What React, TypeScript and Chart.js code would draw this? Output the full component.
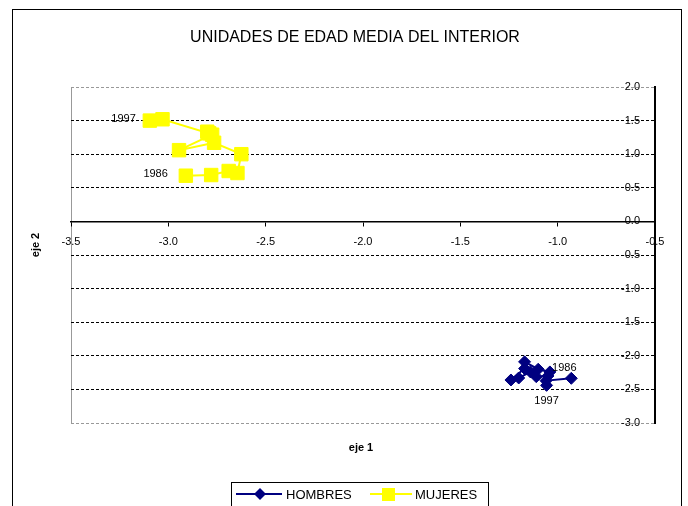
import { useEffect, useRef } from "react";
import { Chart, registerables } from "chart.js";

Chart.register(...registerables);

const chartTitle = "UNIDADES DE EDAD MEDIA DEL INTERIOR";
const xAxisTitle = "eje 1";
const yAxisTitle = "eje 2";
const years = [1986, 1987, 1988, 1989, 1990, 1991, 1992, 1993, 1994, 1995, 1996, 1997];
const hombresX = [-0.93, -1.06, -1.04, -1.1, -1.17, -1.14, -1.2, -1.24, -1.17, -1.11, -1.05, -1.057];
const hombresY = [-2.335, -2.37, -2.24, -2.2, -2.09, -2.24, -2.33, -2.36, -2.19, -2.31, -2.3, -2.44];
const mujeresX = [-2.91, -2.78, -2.69, -2.645, -2.625, -2.765, -2.945, -2.775, -2.8, -2.79, -3.03, -3.095];
const mujeresY = [0.68, 0.69, 0.75, 0.72, 1.0, 1.17, 1.06, 1.29, 1.335, 1.31, 1.52, 1.5];
const xMin = -3.5, xMax = -0.5, yMin = -3.0, yMax = 2.0, step = 0.5;
const seriesNames = ["HOMBRES", "MUJERES"];
const seriesColors = ["#000080", "#FFFF00"];

const FONT = "'Liberation Sans', Arial, sans-serif";

export default function App() {
  const ref = useRef<HTMLCanvasElement | null>(null);
  useEffect(() => {
    const canvas = ref.current;
    if (!canvas) return;
    const decor = {
      id: "decor",
      beforeDraw(chart: any) {
        const ctx = chart.ctx;
        ctx.save();
        ctx.fillStyle = "#fff";
        ctx.fillRect(0, 0, chart.width, chart.height);
        ctx.strokeStyle = "#000";
        ctx.lineWidth = 1;
        ctx.strokeRect(12.5, 9.5, 669, 520);
        const a = chart.chartArea;
        ctx.strokeStyle = "#999";
        ctx.beginPath();
        ctx.moveTo(Math.round(a.left) + 0.5, a.top);
        ctx.lineTo(Math.round(a.left) + 0.5, a.bottom);
        ctx.stroke();
        ctx.fillStyle = "#000";
        ctx.font = `16px ${FONT}`;
        ctx.textAlign = "center";
        ctx.textBaseline = "middle";
        ctx.fillText(chartTitle, 355, 38);
        ctx.font = `bold 11px ${FONT}`;
        ctx.fillText(xAxisTitle, 361, 448);
        ctx.save();
        ctx.translate(36, 245);
        ctx.rotate(-Math.PI / 2);
        ctx.fillText(yAxisTitle, 0, 0);
        ctx.restore();
        // legend
        ctx.strokeStyle = "#000";
        ctx.strokeRect(231.5, 482.5, 257, 30);
        const ly = 494;
        ctx.lineWidth = 2;
        ctx.strokeStyle = seriesColors[0];
        ctx.beginPath();
        ctx.moveTo(236, ly);
        ctx.lineTo(282, ly);
        ctx.stroke();
        ctx.fillStyle = seriesColors[0];
        ctx.beginPath();
        ctx.moveTo(260, ly - 6);
        ctx.lineTo(266, ly);
        ctx.lineTo(260, ly + 6);
        ctx.lineTo(254, ly);
        ctx.closePath();
        ctx.fill();
        ctx.strokeStyle = seriesColors[1];
        ctx.beginPath();
        ctx.moveTo(370, ly);
        ctx.lineTo(412, ly);
        ctx.stroke();
        ctx.fillStyle = seriesColors[1];
        ctx.fillRect(382, ly - 6, 13, 13);
        ctx.fillStyle = "#000";
        ctx.font = `13px ${FONT}`;
        ctx.textAlign = "left";
        ctx.fillText(seriesNames[0], 286, ly + 1);
        ctx.fillText(seriesNames[1], 415, ly + 1);
        ctx.restore();
      },
      afterDatasetsDraw(chart: any) {
        const ctx = chart.ctx;
        const xs = chart.scales.x;
        const ys = chart.scales.y;
        ctx.save();
        ctx.fillStyle = "#000";
        ctx.font = `11px ${FONT}`;
        ctx.textBaseline = "middle";
        const last = years.length - 1;
        ctx.textAlign = "right";
        ctx.fillText(String(years[0]), xs.getPixelForValue(mujeresX[0]) - 18, ys.getPixelForValue(mujeresY[0]) - 2);
        ctx.fillText(String(years[last]), xs.getPixelForValue(mujeresX[last]) - 14, ys.getPixelForValue(mujeresY[last]) - 2);
        ctx.textAlign = "center";
        ctx.fillText(String(years[0]), xs.getPixelForValue(hombresX[0]) - 7, ys.getPixelForValue(hombresY[0]) - 10);
        ctx.fillText(String(years[last]), xs.getPixelForValue(hombresX[last]), ys.getPixelForValue(hombresY[last]) + 16);
        ctx.restore();
      },
    };

    const gridColor = (c: any) => {
      const v = c.tick ? c.tick.value : 0;
      if (Math.abs(v) < 1e-9) return "rgba(0,0,0,0)";
      if (Math.abs(v - yMax) < 1e-9 || Math.abs(v - yMin) < 1e-9) return "#999";
      return "#000";
    };

    const chart = new Chart(canvas, {
      type: "scatter",
      data: {
        datasets: [
          {
            label: seriesNames[0],
            data: hombresX.map((x, i) => ({ x, y: hombresY[i] })),
            showLine: true,
            borderColor: seriesColors[0],
            backgroundColor: seriesColors[0],
            borderWidth: 2,
            pointStyle: "rectRot",
            pointRadius: 6,
            pointBorderWidth: 1,
          },
          {
            label: seriesNames[1],
            data: mujeresX.map((x, i) => ({ x, y: mujeresY[i] })),
            showLine: true,
            borderColor: seriesColors[1],
            backgroundColor: seriesColors[1],
            borderWidth: 2,
            pointStyle: "rect",
            pointRadius: 9.5,
            pointBorderWidth: 1,
          },
        ],
      },
      options: {
        responsive: false,
        animation: false,
        events: [],
        layout: { padding: { left: 71, right: 33, top: 87, bottom: 83 } },
        plugins: { legend: { display: false }, tooltip: { enabled: false }, title: { display: false } },
        scales: {
          x: {
            type: "linear",
            min: xMin,
            max: xMax,
            position: { y: 0 },
            ticks: {
              stepSize: step,
              color: "#000",
              font: { family: FONT, size: 11 },
              padding: 10,
              maxRotation: 0,
              callback: (v: any) => Number(v).toFixed(1),
            },
            grid: { drawOnChartArea: false, color: "#000", tickLength: 4 },
            border: { color: "#000", width: 1.5 },
          },
          y: {
            type: "linear",
            min: yMin,
            max: yMax,
            position: "right",
            afterFit: (s: any) => {
              s.width = 0;
            },
            ticks: {
              stepSize: step,
              mirror: true,
              color: "#000",
              font: { family: FONT, size: 11 },
              padding: -15,
              callback: (v: any) => Number(v).toFixed(1),
            },
            grid: { color: gridColor, tickLength: 0, lineWidth: 1 },
            border: { color: "#000", width: 2, dash: [3, 2] },
          },
        },
      },
      plugins: [decor],
    } as any);
    return () => chart.destroy();
  }, []);
  return (
    <div style={{ position: "absolute", left: 0, top: 0, width: 688, height: 506 }}>
      <canvas ref={ref} width={688} height={506} style={{ display: "block" }} />
    </div>
  );
}
